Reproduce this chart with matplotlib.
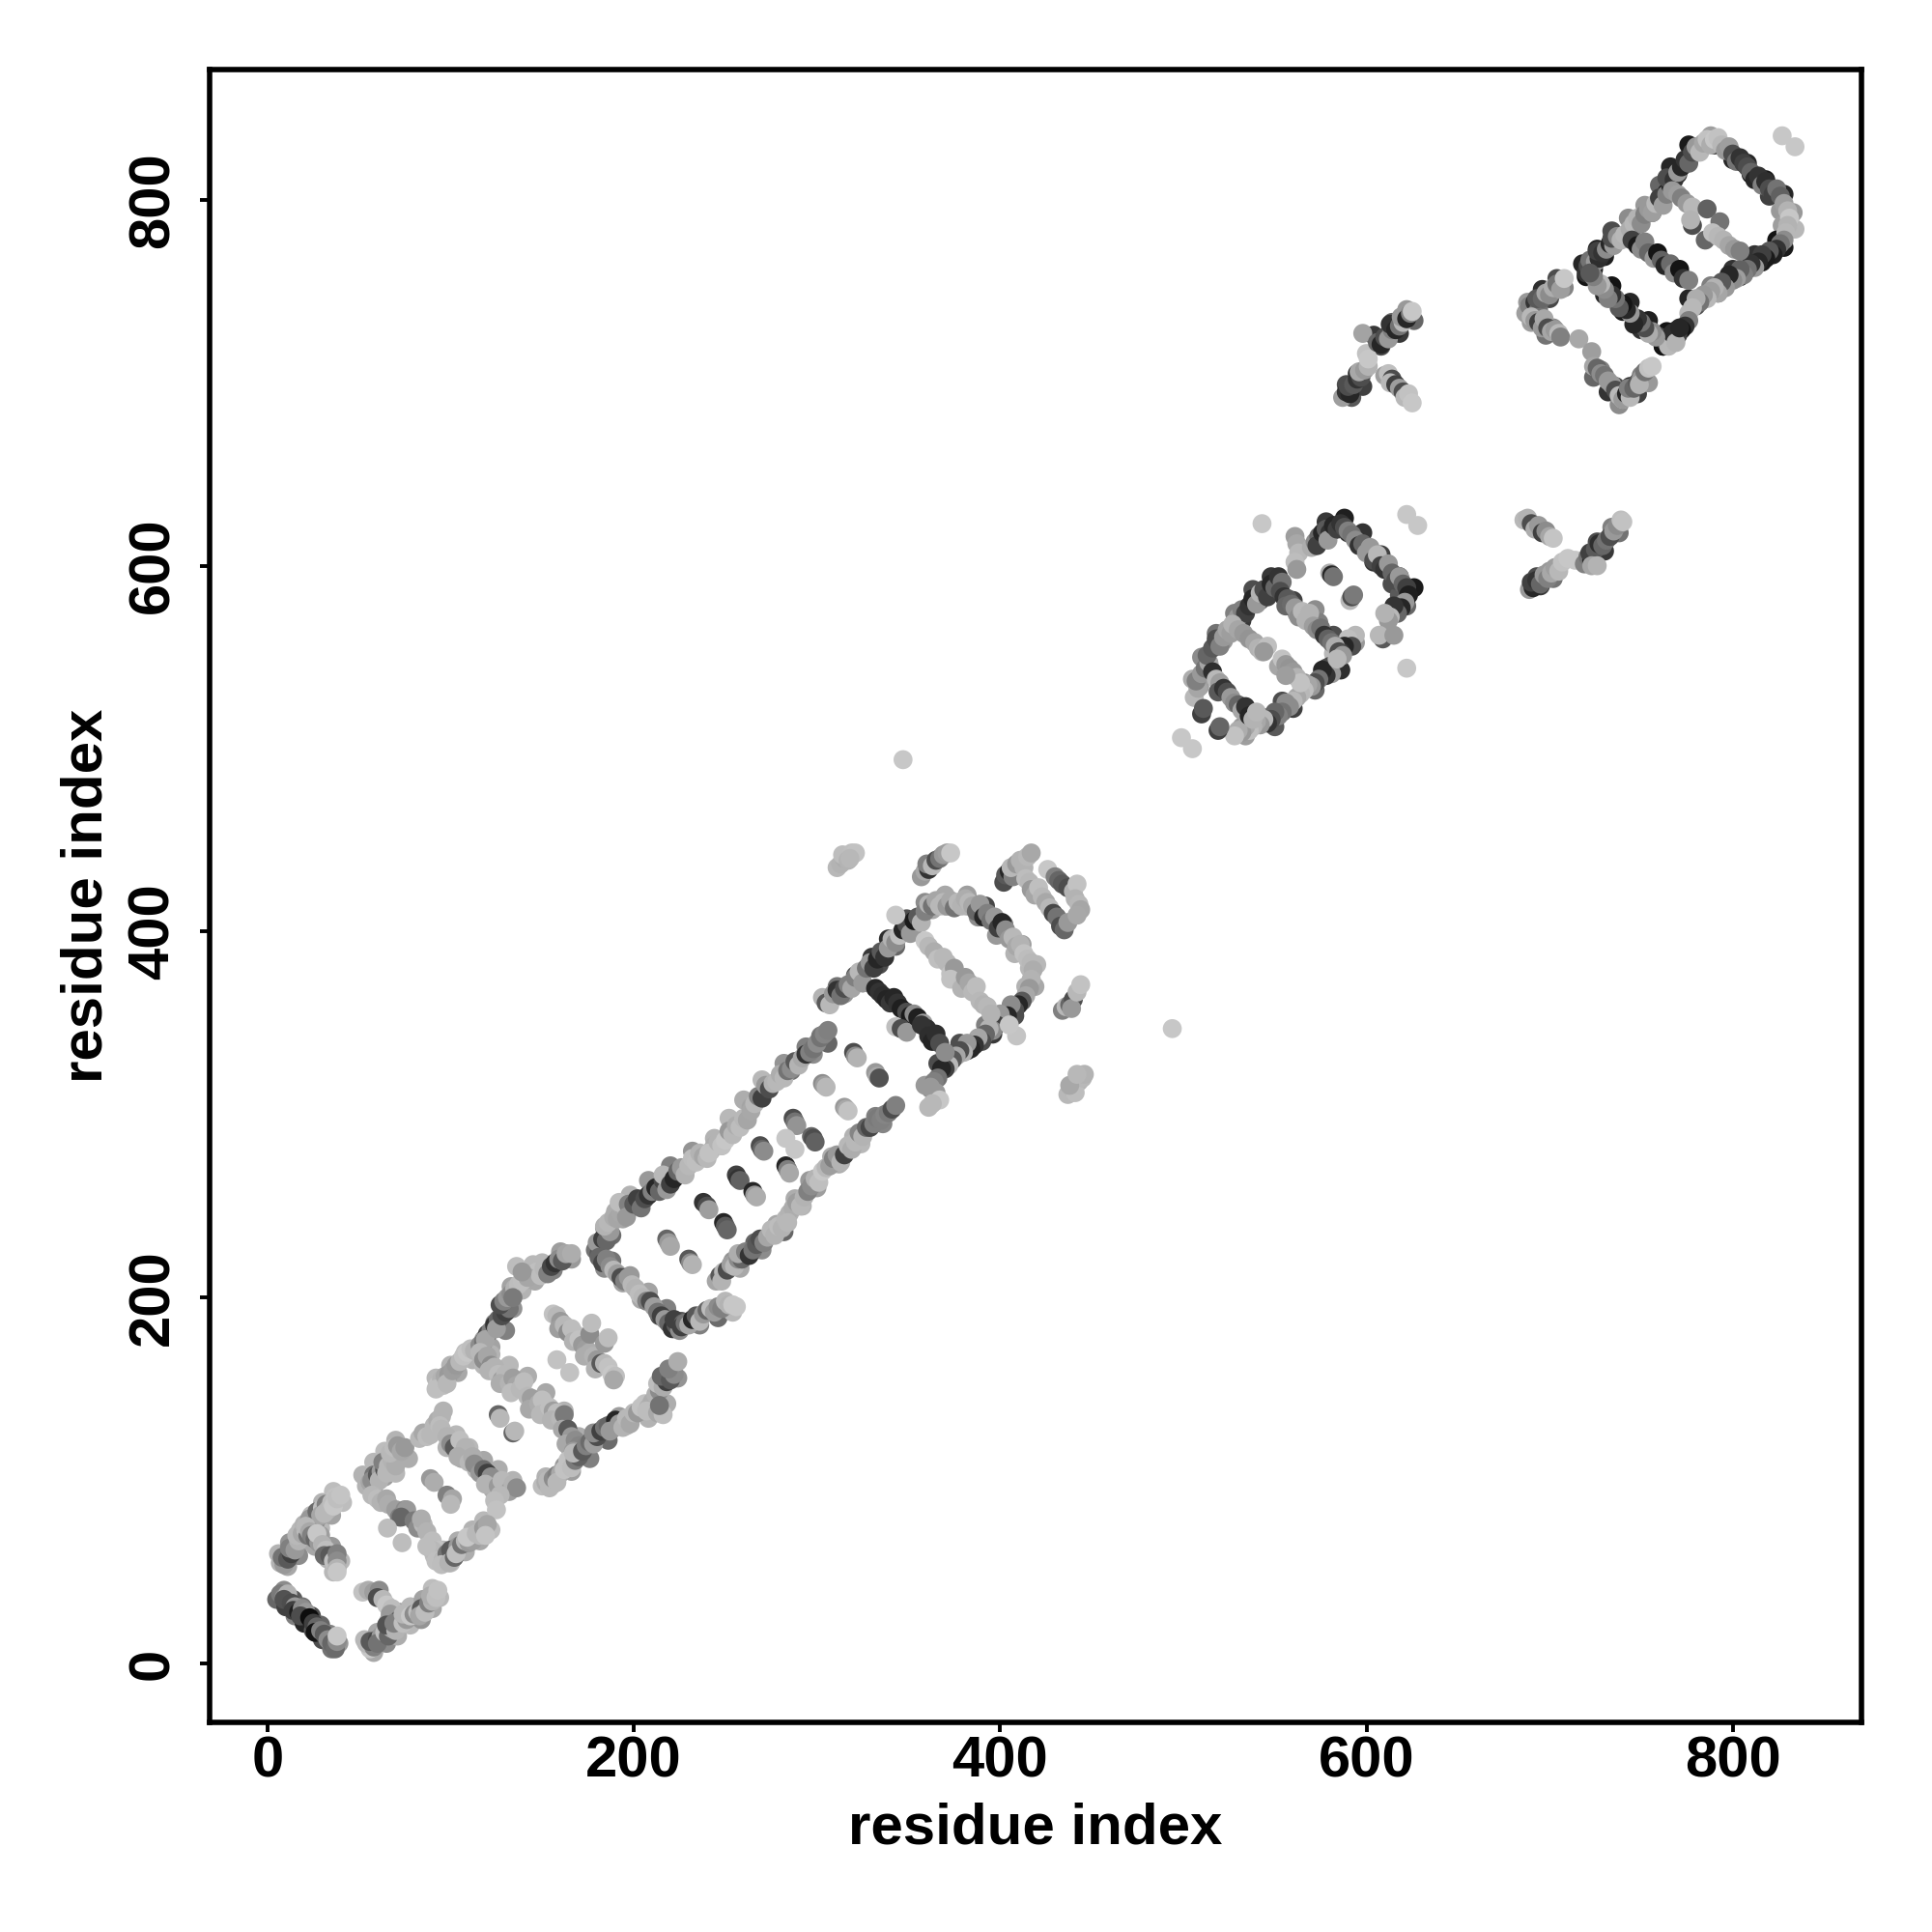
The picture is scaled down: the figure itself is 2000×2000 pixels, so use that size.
import matplotlib
matplotlib.use("Agg")
import matplotlib.pyplot as plt

plt.rcParams['font.family'] = ['Liberation Sans', 'DejaVu Sans']

tick_values = [0, 200, 400, 600, 800]
axis_label = "residue index"

u1_x = [9,14,19,24,29,34,39,5,10,15,20,25,30,35, 53,60,66,72,78,85,90,58,65,71,78,84,90,94, 6,12,18,24,30,36,11,17,23,29,35,41, 23,29,35,40,20,26,33,36, 52,58,64,70,58,64,70,77]
u1_y = [40,35,31,26,21,16,11,35,31,26,22,18,13,8, 13,17,23,28,31,35,41,6,11,15,21,24,30,36, 60,66,73,81,88,94,53,59,67,74,81,88, 76,70,64,56,70,64,57,50, 103,110,116,122,96,102,104,112]
u1_g = [55,35,45,30,40,50,60,40,25,50,15,35,30,45, 72,66,72,60,72,64,74,66,55,68,72,58,66,72, 70,58,72,74,70,74,66,55,66,72,64,74, 70,62,60,72,66,66,70,72, 70,72,74,70,66,62,72,68]
u2_x = [103,110,118,126,134,98,106,114,122,130, 96,104,112,118,100,108,116,122, 92,100,108,118,124,128,133,140,150,160,96,104,112,122,130,134,139,146,156,166]
u2_y = [125,118,111,106,100,118,112,106,100,95, 62,67,73,78,55,61,67,73, 156,163,170,177,186,196,206,213,219,225,152,159,166,173,182,194,204,209,215,221]
u2_g = [72,72,66,68,70,70,66,72,72,70, 72,68,70,72,74,68,66,74, 72,70,74,62,50,55,64,70,72,62,74,66,70,64,50,58,70,66,50,60]
u3_x = [122,132,142,152,162,170,118,128,138,148,158,165, 152,162,172,182,192,204,214,219,156,166,176,186,196,208,218,224]
u3_y = [169,163,157,148,138,124,163,157,151,144,134,118, 102,108,116,126,135,139,146,158,98,105,112,122,130,134,142,156]
u3_g = [70,72,68,66,70,68,72,68,72,68,72,64, 70,60,64,50,62,72,64,56,72,62,50,42,68,70,68,58]
u4_x = [184,190,198,208,220,232,244,252,260,270,282,294,302,188,194,202,212,224,236,248,256,264,274,286,298,306, 188,198,208,218,226,184,194,204,214,222, 234,244,252,236,246,254]
u4_y = [238,247,256,264,272,280,287,298,308,319,328,337,343,234,243,252,260,268,276,283,294,304,315,324,333,339, 220,212,203,194,187,216,208,199,190,183, 189,193,196,185,189,192]
u4_g = [60,68,70,60,50,58,70,72,68,72,58,50,48,42,64,58,35,30,55,68,72,64,68,45,55,40, 45,60,64,50,35,55,64,66,30,38, 35,55,72,50,42,72]
u5_x = [254,266,278,288,296,308,320,332,258,270,282,292,300,312,324,336, 311,321,330,339,349,359,370,382,392,402,412,420,419,408,396,382,370,362, 315,325,334,343,353,363,370,382,388,398,408,416,414,404,392,378,366,359]
u5_y = [220,230,240,254,264,277,288,299,216,226,236,250,260,273,284,295, 370,376,386,396,407,416,420,420,414,404,393,382,370,354,344,335,326,314, 366,372,382,392,403,412,414,414,408,398,388,380,370,356,349,339,328,316]
u5_g = [58,40,66,68,60,68,70,50,66,55,40,70,62,68,72,52, 45,30,22,18,30,55,66,62,28,40,62,72,66,30,22,25,35,58, 60,40,30,40,50,66,70,66,55,60,70,72,70,40,50,30,30,60]
u6_x = [505,510,518,528,538,548,509,514,522,532,542,552, 578,588,598,608,618,626,622,580,590,596,604,614,618,616]
u6_y = [538,550,563,574,587,594,534,546,559,570,581,589, 624,626,618,606,594,588,578,618,618,612,602,590,584,578]
u6_g = [68,55,45,50,30,22,62,30,60,22,35,22, 22,12,20,25,15,10,40,30,18,45,20,30,35,40]
u7_x = [588,578,566,554,544,532,594,586,572,560,550,534, 560,572,582,562,574,584, 693,700,695,702,726,734,730,738, 604,614,622,608,618,626,589,595,592,598]
u7_y = [557,544,536,526,517,512,558,543,532,522,512,507, 581,576,562,574,569,553, 594,597,589,593,613,621,608,618, 726,733,740,720,727,734,699,705,692,698]
u7_g = [22,30,58,30,45,60,60,18,40,25,35,62, 25,55,30,60,50,28, 30,60,22,45,30,50,22,45, 22,40,60,30,22,40,30,18,35,25]
u8_x = [718,726,734,743,752,760,766,776,788,798,808,818,828,833,834,722,730,738,747,756,764,770,780,790,800,810,820,826,827]
u8_y = [765,773,783,790,797,808,818,830,835,828,820,811,803,793,784,761,769,779,786,793,804,814,826,830,822,814,802,794,786]
u8_g = [15,12,30,55,60,40,15,10,62,40,15,10,15,60,72,20,12,25,45,35,10,15,25,12,15,8,25,60,62]
u9_x = [828,816,804,792,780,770,762,824,812,800,788,776,764,758, 754,744,734,724,750,740,730,720, 688,696,704,692,700,708,694,702,690,698, 728,736,742,724,732,738,744,750,748,754]
u9_y = [774,766,758,749,742,729,720,778,770,762,753,746,728,726, 734,744,753,762,729,739,748,758, 744,751,757,740,746,752,737,730,733,726, 707,698,692,703,695,688,698,704,694,700]
u9_g = [10,10,15,50,30,8,15,8,20,20,50,15,8,30, 12,15,8,10,20,10,15,8, 60,18,30,40,28,52,40,55,62,45, 50,30,60,40,20,55,18,50,25,60]

a1_x = [7,9,11,9,13,15,14,17,19,21,18,23,25,27,26,29,31,33,35,37,38,38]
a1_y = [38,36,38,35,33,31,29,28,30,28,26,25,22,20,17,18,16,13,11,8,12,15]
a1_g = [48,55,70,32,30,60,25,12,55,60,30,5,25,40,8,50,35,55,40,42,55,78]
a2_x = [52,55,58,61,60,63,65,68,67]
a2_y = [39,40,39,40,36,35,32,30,27]
a2_g = [76,68,62,55,30,72,78,74,60]
a3_x = [56,54,58,56,60,62,60,64,66,68,65,70,72,69,74,76,74,78,80,82,84,83,86,88,90,89,92,93]
a3_y = [8,11,9,12,13,15,11,17,15,19,21,18,24,22,22,24,27,26,27,28,30,26,28,33,34,37,36,40]
a3_g = [78,72,50,35,28,60,45,75,40,65,32,70,30,50,75,60,72,78,55,74,35,65,74,50,70,68,75,76]
b1_x = [7,9,8,11,13,12,15,17,16,19,21,22,20,24,23,26,28,27,30,29,32,33,31,35,37,36,38,40]
b1_y = [55,54,58,57,60,63,62,67,70,71,73,70,76,76,79,77,80,83,85,81,87,84,82,88,91,86,90,92]
b1_g = [70,60,45,35,25,50,60,70,72,66,74,45,70,78,60,50,60,42,75,65,50,70,72,74,76,78,75,77]
b2_x = [21,23,24,26,28,27,30,32,31,34,36,38,38,38,38]
b2_y = [75,72,70,68,66,71,65,62,59,59,56,60,56,52,50]
b2_g = [72,66,50,40,60,78,70,75,42,35,75,50,55,70,78]
c1_x = [54,56,58,57,60,62,61,64,63,66,65,68,70,67,69,71,73,75]
c1_y = [97,99,103,100,103,105,100,106,110,108,104,111,108,115,118,119,116,118]
c1_g = [70,65,45,55,35,62,70,30,50,72,72,70,68,72,74,60,66,60]
c2_x = [57,60,62,65,66,70,72,75,76,73,80,82,85,84,87,90,89,93,91]
c2_y = [92,90,88,90,87,84,80,84,84,80,78,74,76,79,72,67,63,62,59]
c2_g = [72,74,70,66,68,62,50,55,60,40,48,55,72,68,70,74,75,76,74]
c3_x = [65.5,73.5,89,91,98,101,100]
c3_y = [74,66,101,99,92,90,87]
c3_g = [74,74,60,68,50,65,72]
d1_x = [83,85,87,89,91,93,95,96,94]
d1_y = [123,126,124,125,130,133,135,138,130]
d1_g = [72,66,74,72,72,68,70,70,74]
d2_x = [95,98,100,102,105,108,104,110,112,113,116,118,120,122,123,119,126,128,130,132,134,136,127,124,125]
d2_y = [128,124,120,118,122,118,113,110,113,109,104,106,104,102,95,98,97,100,98,94,98,96,92,89,84]
d2_g = [72,70,55,35,75,70,68,72,68,55,60,42,25,55,68,70,60,72,72,62,70,55,72,74,76]
d3_x = [93,90,87,92,96,98,95,100,99,102,104,103,106,108,110,112,109,114,116,118,120,119]
d3_y = [60,62,64,56,57,60,54,62,55,58,64,60,65,67,66,67,69,71,70,74,76,70]
d3_g = [74,72,74,75,72,45,74,35,70,40,60,75,45,72,60,62,78,72,72,60,65,77]
d4_x = [126,127,134,135]
d4_y = [136,134,126,127]
d4_g = [40,72,40,72]
e1_x = [93,95,92,97,99,98,101,103,105,107,109,111,113,116,118,120,122,119,124,126,125,128,130,132,127,129,131,133,135,137,134,139,141,143,145,147,142,149,151,153,155,157,159,161,163,166,136,139]
e1_y = [152,155,150,157,158,153,160,163,165,168,170,172,171,174,176,180,182,177,185,188,183,190,192,194,196,198,200,202,205,207,200,209,212,215,218,214,211,212,216,213,217,219,221,220,224,224,217,214]
e1_g = [76,70,75,66,60,72,62,60,72,76,78,75,70,55,45,30,50,65,20,40,62,30,25,45,30,50,60,55,70,74,48,75,78,70,72,75,65,74,72,50,28,20,55,35,65,68,74,60]
e2_x = [116,118,120,122,121,124,126,128,130,127,132,134,136,133,138,140,142,144,146,143,148,150,152,149,154,156,158,155,160,162,161,164,166,163,168,170,167]
e2_y = [170,166,168,163,160,162,158,155,158,153,153,156,152,148,150,154,146,145,141,139,142,144,137,136,140,138,137,133,134,136,128,128,124,120,122,119,116]
e2_g = [72,55,65,55,70,70,74,62,72,68,70,62,65,74,72,74,72,62,62,66,68,75,60,72,75,62,74,70,72,48,66,35,60,66,55,52,60]
f1_x = [150,152,154,153,156,158,160,158,162,164,166,168,170,167,172,174,176,178,180,178,182,184,186,188,190,187,192,194,196,198,200,202,204,206,208,210,207,212,214,213,216,218,215,220,222,219,224,213,216,214]
f1_y = [97,99,96,100,101,103,104,99,106,111,107,111,113,115,116,119,121,120,124,126,127,129,130,128,133,127,131,129,134,131,137,137,140,142,140,143,138,147,149,153,151,154,157,155,158,161,165,137,136,141]
f1_g = [74,68,72,72,55,50,66,72,76,76,74,48,38,72,35,50,42,62,30,55,25,45,40,50,15,60,60,70,72,66,72,60,76,76,70,68,74,70,55,74,68,25,40,35,55,50,68,66,74,45]
g1_x = [156,158,160,159,162,164,166,168,167,170,172,174,173,176,178,180,179,182,184,186,188,190,189,176,177,184,186,158,165]
g1_y = [191,190,187,183,185,181,183,180,176,177,174,172,168,170,168,166,161,164,164,162,158,157,155,180,186,175,178,166,159]
g1_g = [76,72,60,62,72,55,74,74,70,76,60,62,68,68,70,60,70,35,72,76,78,75,66,55,74,60,74,76,76]
h1_x = [179,181,180,183,185,187,184,186,189,191, 193,195,192,197,196,200,202,204,206,208, 210,212,214,216,218,216,220,222,224,226, 228,230,232,234,236,238,240,242,244,241, 246,248,250,252,254,256,258,260,262,264, 266,268,270,272,274,276,278,280,282,284, 286,288,290,292,294,296,298,300,302,304,306]
h1_y = [226,224,230,232,231,236,239,241,244,243, 246,250,252,251,244,251,254,249,254,256, 258,260,258,264,259,267,262,265,269,271, 267,272,276,274,279,277,276,280,283,279, 285,283,286,291,289,294,293,298,297,302, 306,310,309,316,314,317,318,322,320,324, 325,329,327,331,333,334,336,339,342,344,346]
h1_g = [45,35,60,25,40,60,70,72,68,65, 66,72,74,50,60,35,25,45,30,20, 50,15,40,28,60,72,25,15,40,60, 70,72,74,75,70,65,72,72,68,76, 70,76,78,60,72,68,74,72,65,66, 72,50,25,60,30,70,72,68,72,45, 55,35,70,66,20,50,45,55,45,52,50]
h2_x = [181,183,185,187,189,191,193,195,197,199, 201,203,205,207,209,211,213,215,217,219, 221,223,225,222,227]
h2_y = [222,219,221,217,215,213,211,209,211,207, 205,202,200,198,198,195,192,190,188,186, 183,185,182,188,186]
h2_g = [40,28,50,55,72,62,30,50,60,72, 70,74,72,50,30,62,45,25,60,40, 20,35,55,25,40]
h3_x = [226,228,230,232,234,236,238,240,242,244,246,248,250,252,254,256]
h3_y = [184,186,185,188,190,187,191,193,194,192,195,194,198,196,196,195]
h3_g = [25,45,65,15,35,72,60,40,74,62,55,50,72,70,78,78]
h4_x = [245,247,249,248,251,253,255,257,259,257,261,263,265,267,269,271,273,275,277,279, 281,283,285,287,284,289,291,293,295,297,299,301,303,305,307,309,311,313,315,317, 319,321,323,325,327,329,331,333,335,337,339,341,343]
h4_y = [209,212,214,209,215,218,217,221,221,224,225,223,226,229,232,230,233,237,234,239, 238,243,246,249,241,252,250,255,258,261,265,263,269,271,272,276,278,274,278,283, 281,285,290,288,293,293,295,298,297,300,301,303,305]
h4_g = [65,35,72,70,30,62,72,55,40,68,50,20,45,35,30,50,65,72,70,74, 70,72,70,68,72,62,72,70,50,55,70,75,78,72,62,50,60,70,25,72, 68,72,52,70,40,28,50,48,50,52,48,30,50]
h5_x = [218,219,220,230,231,232, 238,240,241, 249,250,251, 256,257,258, 265,266,267, 269,270,271, 283,284,285, 287,288,289, 297,298,299, 283,288, 303,304,305, 315,316,317, 320,321,322, 332,333,334]
h5_y = [232,230,228,221,219,218, 252,250,248, 241,239,237, 267,265,264, 258,256,255, 283,281,280, 272,270,268, 298,296,294, 288,287,285, 287,281, 317,316,315, 304,303,302, 334,332,331, 323,321,320]
h5_g = [40,60,66,35,55,70, 20,30,62, 15,35,40, 25,20,38, 15,60,68, 30,40,55, 15,50,66, 30,45,58, 40,30,38, 78,78, 55,62,72, 60,66,76, 30,55,70, 60,66,32]
i1_x = [303,305,307,309,311,313,315,317,319,321, 323,325,327,329,331,333,335,337,339,341, 343,345,347,349,351,353,355,357,359,361, 363,365,367,369,371,373,375,377,379,381, 383,385,387,389,391,393,395,397,399,401, 403,405,407,409,411,413,415,417,418,417, 416,414,412,410,408,406,404,402,400,398, 396,394,392,390,388,386,384,382,380,378, 376,374,372,370,368,366,364,362,365,367,363,361]
i1_y = [364,361,360,366,368,365,369,371,369,375, 378,372,380,383,380,385,389,386,391,396, 394,398,401,404,399,406,408,405,411,415, 414,417,414,416,414,417,413,416,414,418, 416,414,411,415,408,410,406,408,402,405, 401,396,397,392,393,388,385,383,379,374, 369,365,362,360,357,360,354,351,355,349, 346,347,344,340,342,338,336,339,334,335, 332,330,327,325,325,320,318,315,312,308,306,304]
i1_g = [70,35,72,60,20,45,30,50,65,50, 72,60,45,60,25,15,35,20,60,70, 55,75,15,30,60,10,35,70,50,70, 45,65,72,72,60,66,45,72,70,68, 72,66,40,60,15,50,45,60,25,15, 55,60,72,66,70,76,74,72,68,70, 60,66,35,15,30,55,15,40,60,25, 55,70,40,30,65,20,15,60,70,30, 65,35,72,25,15,45,50,60,60,78,72,72]
i2_x = [332,334,336,338,340,342,344,346,349,351,353,343,346,349, 355,358,360,357,361,363,365,367,370]
i2_y = [369,367,365,363,361,364,361,358,356,354,355,348,347,345, 353,350,347,349,343,340,344,339,334]
i2_g = [15,20,18,14,22,15,20,12,30,10,55,75,30,60, 12,62,18,20,18,14,18,30,55]
i3_x = [359,361,364,366,369,371,373,375,373, 379,381,383,385,387,389,391,393,395, 343,409,405]
i3_y = [395,392,389,385,386,383,377,380,374, 369,375,372,367,370,362,360,359,355, 409,343,349]
i3_g = [78,72,68,75,72,72,76,60,76, 70,60,65,72,74,72,70,72,70, 78,77,78]
j1_x = [311,313,315,314,317,319,321,318]
j1_y = [435,437,440,442,439,443,443,440]
j1_g = [72,70,68,74,70,75,76,72]
j2_x = [357,359,361,360,363,365,367,369,371,373]
j2_y = [430,433,434,437,436,439,440,442,443,443]
j2_g = [60,66,20,50,72,30,45,60,62,78]
j3_x = [402,403,405,407,406,409,411,413,415,417]
j3_y = [427,431,433,430,435,437,439,435,441,443]
j3_g = [30,35,15,50,72,60,70,70,72,66]
j4_x = [414,416,417,419,421,423,425,427,429,431,433,435,437]
j4_y = [429,427,423,420,424,419,416,413,410,408,403,401,405]
j4_g = [74,72,60,65,75,72,66,72,28,45,30,40,60]
j5_x = [426,430,432,434,437,440,442,441,443,444,442]
j5_y = [434,430,428,426,424,422,426,418,415,412,409]
j5_g = [78,50,40,35,30,70,76,70,72,65,66]
j6_x = [434,436,438,440,439,442,444]
j6_y = [357,359,360,363,358,367,371]
j6_g = [50,72,40,30,60,72,76]
j7_x = [437,440,443,441,445,446,438,442]
j7_y = [311,314,318,312,320,322,316,322]
j7_g = [72,68,70,74,72,70,66,72]
k1_x = [347,494,499,505,543,622,628,622,827,834]
k1_y = [494,347,506,500,623,628,622,544,835,829]
k1_g = [78,78,78,78,78,78,78,78,78,78]
p1_x = [506,508,507,510,512,514,513,516,518,520,522,524,526,528,530,532,534,536,538,540,542,544,546,548,550,552,554]
p1_y = [528,533,537,541,544,547,551,555,560,556,561,565,563,569,572,576,574,578,582,579,585,587,583,590,588,594,591]
p1_g = [72,65,50,60,45,65,40,35,30,50,60,65,62,68,60,50,25,20,15,60,70,30,25,15,40,20,45]
p2_x = [561,562,563,561,562]
p2_y = [616,612,607,602,598]
p2_g = [62,66,72,74,60]
p3_x = [570,572,574,573,576,578,580,579,582,584,586,588,590,592,594,596,598,600,602,604,606,608,610,612,614,616,618,620,622,623,621,619,617,615,613,612,610,609,607,615]
p3_y = [610,613,616,611,618,620,618,614,622,620,623,621,619,617,614,611,612,607,610,603,606,600,598,601,596,592,594,590,588,584,580,577,574,578,572,570,574,560,562,562]
p3_g = [68,55,40,25,15,35,20,60,15,25,20,30,50,45,55,20,40,60,60,30,72,25,20,60,40,30,60,40,25,12,60,15,40,20,72,60,70,35,72,60]
p4_x = [594,590,592,588,586,584,582,580,581,578,576,574,572,570,568,566,564,562,560,558,556,554,552,550,548,546,544,542,540,538,536,534,532,530,528]
p4_y = [562,560,556,556,553,549,552,545,541,540,543,538,536,534,535,532,530,528,526,523,525,520,518,520,516,514,516,513,515,512,510,512,509,510,507]
p4_g = [72,75,30,15,20,25,72,30,60,20,15,45,30,60,65,75,72,66,72,55,55,45,50,40,30,20,72,60,66,70,75,66,60,68,76]
p5_x = [516,518,520,519,522,524,526,528,530,532,534,536,538,540, 510,511,519,520]
p5_y = [542,538,536,531,533,531,528,525,524,521,523,518,516,520, 519,522,510,512]
p5_g = [18,72,62,35,20,30,60,55,40,65,20,15,70,72, 25,35,25,40]
p6_x = [527,530,533,536,539,541,543,546,544, 552,554,556,558,560,562,564,556]
p6_y = [568,565,563,560,558,555,553,556,553, 545,549,546,544,542,539,536,540]
p6_g = [70,65,60,58,65,70,72,75,60, 65,76,60,58,60,70,76,62]
p7_x = [553,555,557,556,559,561,563,565,567,569,571,573,575,577,579,581,583,585,587,584, 580,581,582, 591,592,593]
p7_y = [586,583,582,578,579,577,572,575,570,574,567,565,566,562,560,558,556,553,551,549, 596,595,594, 581,583,584]
p7_g = [30,20,35,40,42,60,55,72,70,70,62,55,45,20,38,45,68,30,60,72, 68,15,45, 72,30,48]
q1_x = [686,688,690,692,694,696,698,700,702]
q1_y = [625,626,623,620,622,618,619,616,615]
q1_g = [72,70,30,68,60,25,55,65,77]
q2_x = [689,691,690,693,695,697,699,701,703,705,707,710,714]
q2_y = [587,588,591,592,590,595,593,596,599,597,602,604,603]
q2_g = [60,15,25,20,40,60,50,66,62,72,76,78,78]
q3_x = [719,721,723,722,725,727,729,731,733,735,737,739,740, 723,726]
q3_y = [601,605,603,607,609,612,611,614,616,619,622,625,624, 600,600]
q3_g = [50,45,15,25,35,18,40,45,30,60,55,75,76, 65,70]
r1_x = [587,589,591,590,593,595,597,596,599,601,600,598,601]
r1_y = [692,695,694,698,699,702,703,706,707,709,716,727,713]
r1_g = [62,20,15,30,35,20,30,66,60,70,76,64,78]
r2_x = [606,608,610,612,614,613,616,618,620,619,622,624,625]
r2_y = [722,721,725,724,729,732,729,731,733,736,735,738,739]
r2_g = [40,15,30,60,50,20,15,45,72,60,15,50,78]
r3_x = [610,612,614,613,616,618,620,621,623,625]
r3_y = [704,705,702,700,699,697,695,692,694,689]
r3_g = [62,75,30,72,25,62,30,72,76,78]
s1_x = [688,687,689,690,692,694,693,696,698,700,702,704,706,708]
s1_y = [740,738,742,736,744,740,746,746,749,748,752,754,751,757]
s1_g = [70,62,50,65,20,45,35,40,65,55,68,45,62,78]
s2_x = [690,692,694,696,697,699,701,703,705,706]
s2_y = [736,734,733,730,735,730,728,729,727,725]
s2_g = [72,60,25,60,66,30,65,60,72,50]
s3_x = [716,723,724,726,728,730,732,734,736,738,740]
s3_y = [724,717,709,708,705,704,701,699,696,693,691]
s3_g = [66,62,65,40,55,45,60,60,30,72,76]
s4_x = [740,742,744,743,746,748,750,749,752,754,756]
s4_y = [691,694,692,697,697,700,702,699,706,708,709]
s4_g = [60,15,72,50,40,35,60,70,45,76,78]
t1_x = [720,721,723,722,725,727,726,729,731,733,735,734,737,739,741,744,746,748,750,752,754,756,758,760,762,764,766,764,768,770]
t1_y = [760,764,761,767,766,768,772,771,773,776,775,779,780,778,781,784,787,790,787,792,795,793,798,801,797,803,808,812,811,815]
t1_g = [20,30,15,45,60,18,25,20,55,15,60,30,55,70,72,68,72,70,55,50,60,62,72,25,62,50,15,30,20,60]
t2_x = [772,774,776,778,780,782,784,786,788,790,792,794,796,798,800,802,804,806,808,810,812,814,816,818,820,822,824,826,828,830,831,830,829]
t2_y = [818,822,820,826,829,826,831,833,830,833,834,830,827,829,825,821,823,820,818,815,811,813,808,810,806,803,806,802,798,794,790,786,782]
t2_g = [15,20,40,30,60,72,65,76,68,78,76,72,60,62,30,45,20,25,30,40,15,20,50,18,30,25,45,38,62,70,78,70,72]
t3_x = [828,826,824,822,820,818,816,814,812,810,808,806,804,802,800,798,796,794,792,790,788,786,784,782,780,778,776]
t3_y = [778,776,773,770,772,768,770,766,763,765,762,759,762,757,756,759,752,755,749,752,750,746,748,744,746,741,738]
t3_g = [55,45,20,12,35,10,25,15,60,20,45,50,38,62,55,15,60,35,65,70,62,72,60,45,68,72,72]
t4_x = [776,774,772,770,768,766,764,762,760,763,765,767,769,771]
t4_y = [734,731,729,726,728,724,722,720,725,723,720,727,722,730]
t4_g = [50,20,8,25,12,55,15,8,30,25,72,18,70,15]
t5_x = [758,756,754,752,750,748,746,744,742,740,738,736,734,732,730,728,726,724,722]
t5_y = [725,728,727,730,733,735,732,738,740,743,741,746,748,746,751,754,753,758,760]
t5_g = [60,55,68,30,45,20,15,60,15,8,35,45,20,50,55,72,60,50,35]
t6_x = [745,748,750,752,754,757,759,761,763,766,768,771,773,776]
t6_y = [778,775,773,777,771,768,771,767,764,765,760,762,757,756]
t6_g = [25,10,55,50,40,60,8,38,15,42,55,8,20,50]
t7_x = [767,770,772,775,778,778,786,793,777,785, 789,792,795,798,801,804]
t7_y = [805,803,801,798,796,786,795,788,789,778, 782,780,778,775,773,772]
t7_g = [60,62,50,60,72,30,38,45,70,40, 75,72,70,65,60,50]

strands = [
    (u1_x,u1_y,u1_g),(u2_x,u2_y,u2_g),(u3_x,u3_y,u3_g),(u4_x,u4_y,u4_g),(u5_x,u5_y,u5_g),
    (u6_x,u6_y,u6_g),(u7_x,u7_y,u7_g),(u8_x,u8_y,u8_g),(u9_x,u9_y,u9_g),
    (a1_x,a1_y,a1_g),(a2_x,a2_y,a2_g),(a3_x,a3_y,a3_g),(b1_x,b1_y,b1_g),(b2_x,b2_y,b2_g),
    (c1_x,c1_y,c1_g),(c2_x,c2_y,c2_g),(c3_x,c3_y,c3_g),(d1_x,d1_y,d1_g),(d2_x,d2_y,d2_g),
    (d3_x,d3_y,d3_g),(d4_x,d4_y,d4_g),(e1_x,e1_y,e1_g),(e2_x,e2_y,e2_g),(f1_x,f1_y,f1_g),
    (g1_x,g1_y,g1_g),(h1_x,h1_y,h1_g),(h2_x,h2_y,h2_g),(h3_x,h3_y,h3_g),(h4_x,h4_y,h4_g),
    (h5_x,h5_y,h5_g),(i1_x,i1_y,i1_g),(i2_x,i2_y,i2_g),(i3_x,i3_y,i3_g),(j1_x,j1_y,j1_g),
    (j2_x,j2_y,j2_g),(j3_x,j3_y,j3_g),(j4_x,j4_y,j4_g),(j5_x,j5_y,j5_g),(j6_x,j6_y,j6_g),
    (j7_x,j7_y,j7_g),(k1_x,k1_y,k1_g),(p1_x,p1_y,p1_g),(p2_x,p2_y,p2_g),(p3_x,p3_y,p3_g),
    (p4_x,p4_y,p4_g),(p5_x,p5_y,p5_g),(p6_x,p6_y,p6_g),(p7_x,p7_y,p7_g),(q1_x,q1_y,q1_g),
    (q2_x,q2_y,q2_g),(q3_x,q3_y,q3_g),(r1_x,r1_y,r1_g),(r2_x,r2_y,r2_g),(r3_x,r3_y,r3_g),
    (s1_x,s1_y,s1_g),(s2_x,s2_y,s2_g),(s3_x,s3_y,s3_g),(s4_x,s4_y,s4_g),(t1_x,t1_y,t1_g),
    (t2_x,t2_y,t2_g),(t3_x,t3_y,t3_g),(t4_x,t4_y,t4_g),(t5_x,t5_y,t5_g),(t6_x,t6_y,t6_g),
    (t7_x,t7_y,t7_g),
]

fig = plt.figure(figsize=(10, 10), dpi=200)
ax = fig.add_axes([217/2000, 1-1783/2000, (1927-217)/2000, (1783-72)/2000])
ax.set_xlim(-31.6, 870.3)
ax.set_ylim(-32.2, 871.2)

for xs, ys, gs in strands:
    n = min(len(xs), len(ys), len(gs))
    ax.scatter(xs[:n], ys[:n], s=50, c=[str(v/100) for v in gs[:n]], linewidths=0, clip_on=False)

for sp in ax.spines.values():
    sp.set_linewidth(2.0)
ax.set_xticks(tick_values)
ax.set_yticks(tick_values)
ax.tick_params(length=3.5, width=1.4, labelsize=21.5)
ax.tick_params(axis='x', pad=1.5)
ax.tick_params(axis='y', pad=7.5)
for t in ax.get_xticklabels():
    t.set_fontweight('bold')
for t in ax.get_yticklabels():
    t.set_fontweight('bold')
    t.set_rotation(90)
    t.set_va('center')
ax.set_xlabel(axis_label, fontsize=21.6, fontweight='bold', labelpad=5)
ax.set_ylabel(axis_label, fontsize=21.6, fontweight='bold', labelpad=5)
fig.savefig("out.png", dpi=200, facecolor="white")
